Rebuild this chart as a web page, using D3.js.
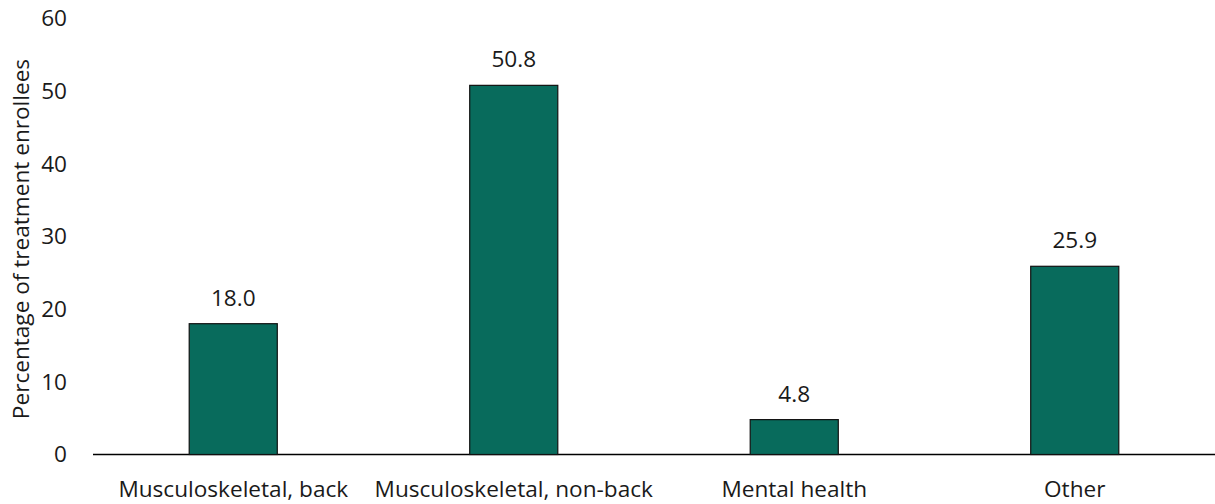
<!DOCTYPE html>
<html>
<head>
<meta charset="utf-8">
<script src="https://cdn.jsdelivr.net/npm/d3@7"></script>
<style>
  html, body { margin: 0; padding: 0; background: #fff; }
  svg text { font-family: "Open Sans", "Noto Sans", sans-serif; fill: #1a1a1a; }
</style>
</head>
<body>
<svg id="chart" width="1215" height="504"></svg>
<script>
// Share of treatment enrollees by condition group
const categories = ["Musculoskeletal, back", "Musculoskeletal, non-back", "Mental health", "Other"];
const values = [18.0, 50.8, 4.8, 25.9];
const yTicks = [0, 10, 20, 30, 40, 50, 60];
const yTitle = "Percentage of treatment enrollees";

const FONT = 22.6;
const svg = d3.select("#chart");
const margin = { top: 18.5, right: 0, bottom: 49.5, left: 93 };
const width = 1215, height = 504;

const x = d3.scaleBand()
  .domain(categories)
  .range([margin.left, width - margin.right])
  .paddingInner(0.686)
  .paddingOuter(0.343);

const y = d3.scaleLinear()
  .domain([0, 60])
  .range([height - margin.bottom, margin.top]);

// Baseline axis
svg.append("line")
  .attr("x1", margin.left).attr("x2", width - margin.right)
  .attr("y1", y(0)).attr("y2", y(0))
  .attr("stroke", "#000").attr("stroke-width", 1.3);

// Y tick labels (no axis line, no ticks)
const yAxis = svg.append("g")
  .attr("transform", `translate(${margin.left},0)`)
  .call(d3.axisLeft(y).tickValues(yTicks).tickSize(0).tickPadding(26).tickFormat(d3.format("d")));
yAxis.select(".domain").remove();
yAxis.selectAll("text").attr("font-size", FONT).attr("font-family", "'Open Sans', sans-serif").attr("fill", "#1a1a1a");

// Category labels
const xAxis = svg.append("g")
  .attr("transform", `translate(0,${y(0)})`)
  .call(d3.axisBottom(x).tickSize(0).tickPadding(26));
xAxis.select(".domain").remove();
xAxis.selectAll("text").attr("font-size", FONT).attr("font-family", "'Open Sans', sans-serif").attr("fill", "#1a1a1a");

// Bars
svg.append("g").selectAll("rect")
  .data(values)
  .join("rect")
  .attr("x", (d, i) => x(categories[i]))
  .attr("y", d => y(d))
  .attr("width", x.bandwidth())
  .attr("height", d => y(0) - y(d))
  .attr("fill", "#086b5c")
  .attr("stroke", "#111")
  .attr("stroke-width", 1.2);

// Value labels
svg.append("g").selectAll("text")
  .data(values)
  .join("text")
  .attr("x", (d, i) => x(categories[i]) + x.bandwidth() / 2)
  .attr("y", d => y(d) - 18)
  .attr("text-anchor", "middle")
  .attr("font-size", FONT)
  .text(d => d3.format(".1f")(d));

// Y axis title
svg.append("text")
  .attr("transform", `translate(29,239) rotate(-90)`)
  .attr("text-anchor", "middle")
  .attr("font-size", FONT)
  .text(yTitle);
</script>
</body>
</html>
